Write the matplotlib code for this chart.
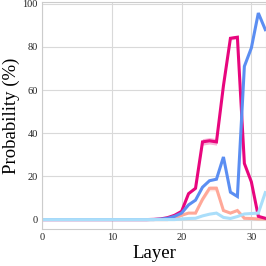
import numpy as np
import matplotlib
matplotlib.use("Agg")
import matplotlib.pyplot as plt

plt.rcParams['font.family'] = ['Liberation Serif', 'DejaVu Serif']

# layers 0..32
layers = list(range(33))

# probabilities (%)
magenta = [0] * 16 + [0.1, 0.3, 0.9, 2.0, 3.8, 12.0, 14.5, 36.0, 36.5, 36.0,
                       62.0, 84.0, 84.5, 26.0, 17.5, 1.5, 0.6]
blue = [0] * 17 + [0.2, 0.6, 1.5, 3.0, 6.8, 9.0, 15.0, 18.0, 18.7,
                   29.0, 12.7, 10.7, 71.0, 79.5, 95.7, 88.0]
salmon = [0] * 19 + [0.5, 2.0, 3.0, 3.0, 9.4, 14.5, 14.5, 4.2, 3.0, 4.2,
                     0.6, 0.5, 0.3, 0.3]
lightblue = [0] * 20 + [0.3, 0.5, 0.6, 1.7, 2.5, 3.0, 1.0, 0.5, 1.4,
                        2.6, 2.8, 3.0, 12.5]

# uncertainty bands (half width)
magenta_err = [0] * 22 + [0.5, 1.5, 1.5, 1.5, 1.0, 0.8, 0.8, 0.5, 0.3, 0.2, 0.1]
salmon_err = [0] * 22 + [0.3, 1.0, 1.2, 1.2, 0.5, 0.3, 0.3, 0.1, 0.1, 0.1, 0.1]

series = [
    (salmon, salmon_err, '#ffa898'),
    (magenta, magenta_err, '#e8067e'),
    (blue, None, '#5b8ef2'),
    (lightblue, None, '#aadefa'),
]

fig = plt.figure(figsize=(2.66, 2.66), dpi=100)
ax = fig.add_axes([0.158, 0.138, 0.842, 0.856])

x = np.array(layers)
for vals, err, col in series:
    y = np.array(vals)
    if err is not None:
        e = np.array(err)
        ax.fill_between(x, y - e, y + e, color=col, alpha=0.3, lw=0)
    ax.plot(x, y, color=col, lw=2.2, solid_joinstyle='miter')

ax.set_xlim(0, 32.1)
ax.set_ylim(-4.5, 101)
ax.set_xticks([0, 10, 20, 30])
ax.set_yticks([0, 20, 40, 60, 80, 100])
ax.grid(True, color='#d9d9d9', lw=0.8)
ax.set_axisbelow(True)
for s in ax.spines.values():
    s.set_color('#cccccc')
    s.set_linewidth(0.8)
ax.tick_params(length=0, labelsize=7.5, pad=3, colors='#222222')
ax.set_xlabel('Layer', fontsize=13.5, labelpad=2)
ax.set_ylabel('Probability (%)', fontsize=13.5, labelpad=2)

fig.savefig('out.png', dpi=100)
